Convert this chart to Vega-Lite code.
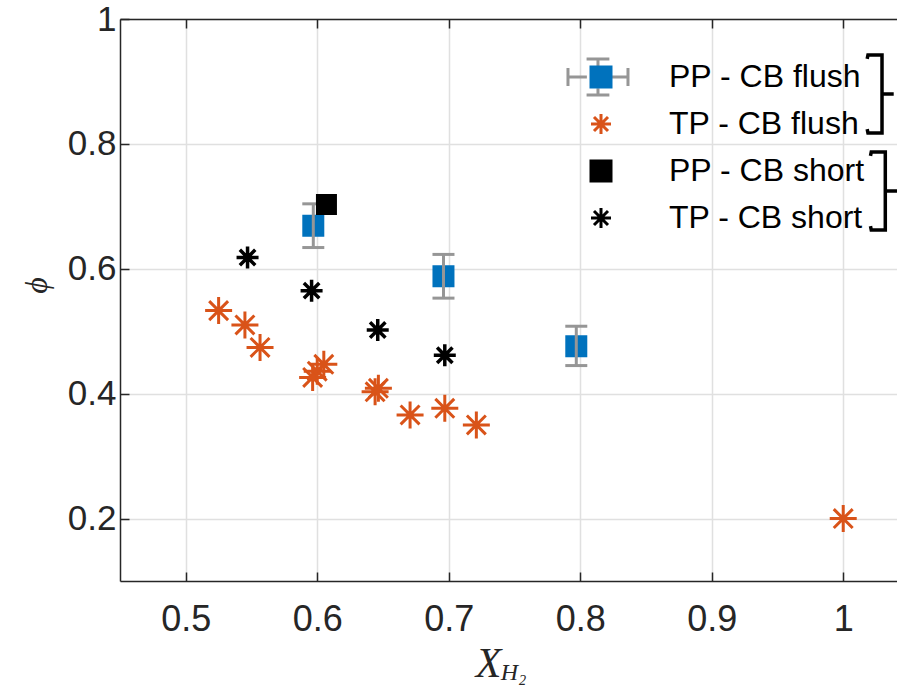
{
  "$schema": "https://vega.github.io/schema/vega-lite/v6.json",
  "width": 777,
  "height": 562,
  "autosize": {"type": "none"},
  "padding": {"left": 120, "top": 19, "right": 0, "bottom": 108},
  "background": "white",
  "config": {
    "view": {"stroke": null},
    "axis": {
      "domainColor": "#262626", "domainWidth": 1.5,
      "tickColor": "#262626", "tickWidth": 1.5, "tickSize": -9,
      "labelColor": "#262626", "labelFont": "Liberation Sans", "labelFontSize": 36,
      "gridColor": "#e0e0e0", "gridWidth": 1.5,
      "titleColor": "#262626", "titleFont": "Liberation Serif", "titleFontStyle": "italic", "titleFontWeight": "normal"
    },
    "legend": {"orient": "none", "legendX": 465, "legendY": 42, "title": null, "symbolSize": 400, "symbolStrokeWidth": 3, "labelFontSize": 32, "labelFont": "Liberation Sans", "labelColor": "#000000", "labelOffset": 52, "labelLimit": 400, "rowPadding": 15, "padding": 0}
  },
  "datasets": {
    "pts": [
      {"series": "PP - CB flush", "x": 0.597, "y": 0.669},
      {"series": "PP - CB flush", "x": 0.696, "y": 0.588},
      {"series": "PP - CB flush", "x": 0.797, "y": 0.476},
      {"series": "TP - CB flush", "x": 0.525, "y": 0.533},
      {"series": "TP - CB flush", "x": 0.545, "y": 0.51},
      {"series": "TP - CB flush", "x": 0.5565, "y": 0.474},
      {"series": "TP - CB flush", "x": 0.5965, "y": 0.426},
      {"series": "TP - CB flush", "x": 0.6, "y": 0.436},
      {"series": "TP - CB flush", "x": 0.605, "y": 0.447},
      {"series": "TP - CB flush", "x": 0.644, "y": 0.403},
      {"series": "TP - CB flush", "x": 0.6465, "y": 0.4085},
      {"series": "TP - CB flush", "x": 0.6706, "y": 0.366},
      {"series": "TP - CB flush", "x": 0.697, "y": 0.3765},
      {"series": "TP - CB flush", "x": 0.721, "y": 0.35},
      {"series": "TP - CB flush", "x": 1.0, "y": 0.2},
      {"series": "PP - CB short", "x": 0.607, "y": 0.703},
      {"series": "TP - CB short", "x": 0.547, "y": 0.618},
      {"series": "TP - CB short", "x": 0.5957, "y": 0.565},
      {"series": "TP - CB short", "x": 0.646, "y": 0.502},
      {"series": "TP - CB short", "x": 0.697, "y": 0.4616}
    ],
    "err": [
      {"x": 0.597, "lo": 0.634, "hi": 0.704},
      {"x": 0.696, "lo": 0.553, "hi": 0.623},
      {"x": 0.797, "lo": 0.445, "hi": 0.508}
    ]
  },
  "resolve": {"axis": {"x": "independent"}},
  "layer": [
    {
      "data": {"name": "pts"},
      "transform": [{"filter": "datum.series === 'PP - CB flush'"}],
      "mark": {"type": "point", "filled": true, "strokeWidth": 3, "opacity": 1, "size": 361},
      "encoding": {
        "x": {"field": "x", "type": "quantitative",
          "scale": {"domain": [0.45, 1.0409], "nice": false, "zero": false},
          "axis": {"orient": "bottom", "values": [0.5, 0.6, 0.7, 0.8, 0.9, 1], "format": "~g", "grid": true, "labelPadding": 30, "title": "X", "titleFontSize": 42, "titleX": 368, "titleY": 82, "titleBaseline": "middle", "titleAlign": "center"}},
        "y": {"field": "y", "type": "quantitative",
          "scale": {"domain": [0.1, 1], "nice": false, "zero": false},
          "axis": {"values": [0.2, 0.4, 0.6, 0.8, 1], "format": "~g", "grid": true, "labelPadding": 13, "labelFontSize": 35, "title": "ϕ", "titleFontSize": 32, "titleAngle": 270, "titleX": -84, "titleY": 266, "titleBaseline": "middle", "titleAlign": "center"}},
        "fill": {"field": "series", "type": "nominal",
          "scale": {"domain": ["PP - CB flush", "TP - CB flush", "PP - CB short", "TP - CB short"], "range": ["#0072BD", "#D95319", "#000000", "#000000"]}},
        "stroke": {"field": "series", "type": "nominal",
          "scale": {"domain": ["PP - CB flush", "TP - CB flush", "PP - CB short", "TP - CB short"], "range": ["#0072BD", "#D95319", "#000000", "#000000"]}},
        "shape": {"field": "series", "type": "nominal",
          "scale": {"domain": ["PP - CB flush", "TP - CB flush", "PP - CB short", "TP - CB short"], "range": ["square", "M0,-1L0,1M-1,0L1,0M-0.7,-0.7L0.7,0.7M-0.7,0.7L0.7,-0.7", "square", "M0,-1L0,1M-1,0L1,0M-0.7,-0.7L0.7,0.7M-0.7,0.7L0.7,-0.7"]}}
      }
    },
    {
      "data": {"name": "err"},
      "mark": {"type": "rule", "color": "#969696", "strokeWidth": 3},
      "encoding": {
        "x": {"field": "x", "type": "quantitative", "axis": null},
        "y": {"field": "lo", "type": "quantitative"},
        "y2": {"field": "hi"}
      }
    },
    {
      "data": {"name": "err"},
      "mark": {"type": "tick", "orient": "horizontal", "color": "#969696", "size": 22, "thickness": 3, "opacity": 1},
      "encoding": {
        "x": {"field": "x", "type": "quantitative", "axis": null},
        "y": {"field": "lo", "type": "quantitative"}
      }
    },
    {
      "data": {"name": "err"},
      "mark": {"type": "tick", "orient": "horizontal", "color": "#969696", "size": 22, "thickness": 3, "opacity": 1},
      "encoding": {
        "x": {"field": "x", "type": "quantitative", "axis": null},
        "y": {"field": "hi", "type": "quantitative"}
      }
    },
    {
      "data": {"name": "pts"},
      "transform": [{"filter": "datum.series === 'TP - CB flush'"}],
      "mark": {"type": "point", "filled": true, "strokeWidth": 3, "opacity": 1, "size": 729},
      "encoding": {
        "x": {"field": "x", "type": "quantitative", "axis": {"orient": "top", "values": [0.5, 0.6, 0.7, 0.8, 0.9, 1], "labels": false, "grid": false, "title": null}},
        "y": {"field": "y", "type": "quantitative"},
        "fill": {"field": "series", "type": "nominal"},
        "stroke": {"field": "series", "type": "nominal"},
        "shape": {"field": "series", "type": "nominal"}
      }
    },
    {
      "data": {"name": "pts"},
      "transform": [{"filter": "datum.series === 'PP - CB short'"}],
      "mark": {"type": "point", "filled": true, "strokeWidth": 3, "opacity": 1, "size": 324},
      "encoding": {
        "x": {"field": "x", "type": "quantitative", "axis": null},
        "y": {"field": "y", "type": "quantitative"},
        "fill": {"field": "series", "type": "nominal"},
        "stroke": {"field": "series", "type": "nominal"},
        "shape": {"field": "series", "type": "nominal"}
      }
    },
    {
      "data": {"name": "pts"},
      "transform": [{"filter": "datum.series === 'TP - CB short'"}],
      "mark": {"type": "point", "filled": true, "strokeWidth": 3.5, "opacity": 1, "size": 484},
      "encoding": {
        "x": {"field": "x", "type": "quantitative", "axis": null},
        "y": {"field": "y", "type": "quantitative"},
        "fill": {"field": "series", "type": "nominal"},
        "stroke": {"field": "series", "type": "nominal"},
        "shape": {"field": "series", "type": "nominal"}
      }
    },
    {
      "data": {"values": [{}]},
      "mark": {"type": "point", "filled": false, "shape": "M-1,-0.3L-1,0.3M-1,0L-0.37,0M1,-0.3L1,0.3M1,0L0.37,0M-0.38,-0.6L0.38,-0.6M0,-0.6L0,-0.37M-0.38,0.6L0.38,0.6M0,0.6L0,0.37", "size": 3600, "stroke": "#969696", "strokeWidth": 3, "opacity": 1},
      "encoding": {
        "x": {"datum": 0.8135, "axis": null},
        "y": {"datum": 0.907}
      }
    },
    {
      "data": {"values": [{}]},
      "mark": {"type": "point", "filled": false, "shape": "M-0.38,-0.9L-0.36,-1L0,-1L0,1L-0.36,1L-0.38,0.9M0,0L0.3,0", "size": 6084, "stroke": "#000000", "strokeWidth": 3.5, "opacity": 1},
      "encoding": {
        "x": {"datum": 1.0295, "axis": null},
        "y": {"datum": 0.8799}
      }
    },
    {
      "data": {"values": [{}]},
      "mark": {"type": "point", "filled": false, "shape": "M-0.38,-0.9L-0.36,-1L0,-1L0,1L-0.36,1L-0.38,0.9M0,0L0.3,0", "size": 6084, "stroke": "#000000", "strokeWidth": 3.5, "opacity": 1},
      "encoding": {
        "x": {"datum": 1.032, "axis": null},
        "y": {"datum": 0.7245}
      }
    },
    {
      "data": {"values": [{}]},
      "mark": {"type": "text", "text": "H₂", "font": "Liberation Serif", "fontStyle": "italic", "fontSize": 24, "color": "#262626", "align": "center", "baseline": "middle"},
      "encoding": {
        "x": {"datum": 0.7493, "axis": null},
        "y": {"datum": -0.048}
      }
    }
  ]
}
